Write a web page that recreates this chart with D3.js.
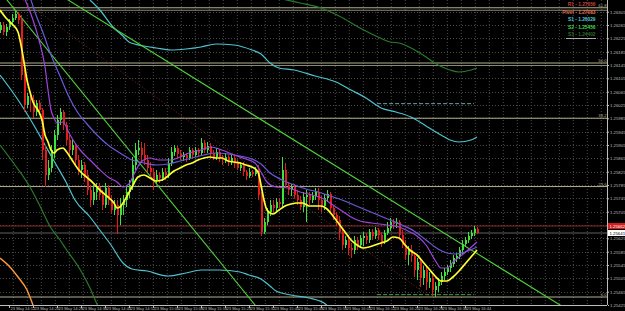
<!DOCTYPE html>
<html><head><meta charset="utf-8">
<script src="https://cdn.jsdelivr.net/npm/d3@7"></script>
<style>html,body{margin:0;padding:0;background:#000;overflow:hidden}svg{display:block}</style>
</head><body><svg id="c" width="625" height="311"></svg>
<script>
// ---- data ----
const timeLabels = ["23 May 14:12","23 May 14:20","23 May 14:28","23 May 14:36","23 May 14:44","23 May 14:52","23 May 15:00","23 May 15:08","23 May 15:16","23 May 15:24","23 May 15:32","23 May 15:40","23 May 15:48","23 May 15:56","23 May 16:04","23 May 16:12","23 May 16:20","23 May 16:28","23 May 16:36","23 May 16:44"];
const firstBarTime = "14:09";
const priceTicks = [1.26305,1.26265,1.26225,1.26185,1.26145,1.26105,1.26065,1.26025,1.25985,1.25945,1.25905,1.25865,1.25825,1.25785,1.25745,1.25705,1.25665,1.25625,1.25585,1.25545,1.25505,1.25465,1.25425];
const firstOpen = 1.26250;
const closes = [1.26265,1.26244,1.26259,1.26274,1.26286,1.26298,1.26280,1.26115,1.26025,1.26052,
1.26040,1.26004,1.26031,1.26010,1.25890,1.25815,1.25836,1.25890,1.25935,1.25980,
1.26004,1.25965,1.25920,1.25890,1.25905,1.25860,1.25830,1.25845,1.25815,1.25770,
1.25740,1.25764,1.25779,1.25755,1.25725,1.25776,1.25740,1.25710,1.25725,1.25695,
1.25725,1.25740,1.25764,1.25785,1.25845,1.25890,1.25896,1.25875,1.25860,1.25836,
1.25824,1.25800,1.25815,1.25806,1.25824,1.25815,1.25851,1.25884,1.25896,1.25878,
1.25869,1.25875,1.25866,1.25890,1.25875,1.25890,1.25881,1.25911,1.25890,1.25902,
1.25881,1.25869,1.25884,1.25866,1.25860,1.25869,1.25854,1.25866,1.25851,1.25836,
1.25845,1.25824,1.25812,1.25824,1.25818,1.25830,1.25755,1.25644,1.25674,1.25704,
1.25725,1.25716,1.25734,1.25728,1.25830,1.25785,1.25770,1.25779,1.25755,1.25740,
1.25719,1.25749,1.25755,1.25740,1.25752,1.25764,1.25740,1.25722,1.25746,1.25758,
1.25716,1.25695,1.25680,1.25644,1.25605,1.25620,1.25596,1.25590,1.25620,1.25605,
1.25626,1.25632,1.25620,1.25644,1.25632,1.25650,1.25635,1.25614,1.25641,1.25656,
1.25674,1.25668,1.25674,1.25635,1.25605,1.25575,1.25590,1.25572,1.25530,1.25554,
1.25506,1.25530,1.25494,1.25506,1.25470,1.25482,1.25494,1.25512,1.25524,1.25536,
1.25548,1.25566,1.25572,1.25590,1.25608,1.25620,1.25632,1.25641,1.25653,1.25641];
const highs = [1.26274,1.26274,1.26268,1.26283,1.26298,1.26307,1.26304,1.26295,1.26130,1.26061,
1.26061,1.26055,1.26040,1.26040,1.26016,1.25905,1.25860,1.25905,1.25950,1.25995,
1.26016,1.26010,1.25974,1.25935,1.25920,1.25911,1.25875,1.25860,1.25854,1.25830,
1.25785,1.25785,1.25791,1.25791,1.25770,1.25791,1.25785,1.25755,1.25740,1.25740,
1.25746,1.25755,1.25779,1.25800,1.25869,1.25911,1.25920,1.25914,1.25911,1.25875,
1.25854,1.25836,1.25830,1.25824,1.25836,1.25836,1.25866,1.25899,1.25905,1.25902,
1.25890,1.25884,1.25881,1.25899,1.25896,1.25899,1.25896,1.25926,1.25920,1.25914,
1.25911,1.25890,1.25896,1.25890,1.25875,1.25881,1.25875,1.25875,1.25872,1.25860,
1.25854,1.25854,1.25830,1.25836,1.25830,1.25839,1.25845,1.25764,1.25686,1.25716,
1.25740,1.25740,1.25746,1.25746,1.25869,1.25851,1.25794,1.25788,1.25788,1.25770,
1.25752,1.25764,1.25770,1.25764,1.25764,1.25776,1.25776,1.25752,1.25758,1.25770,
1.25764,1.25725,1.25704,1.25692,1.25656,1.25632,1.25635,1.25611,1.25632,1.25629,
1.25635,1.25644,1.25641,1.25653,1.25653,1.25659,1.25656,1.25644,1.25650,1.25674,
1.25686,1.25683,1.25686,1.25680,1.25650,1.25620,1.25602,1.25605,1.25584,1.25566,
1.25566,1.25542,1.25539,1.25524,1.25515,1.25494,1.25506,1.25524,1.25536,1.25545,
1.25560,1.25575,1.25581,1.25599,1.25620,1.25629,1.25644,1.25650,1.25662,1.25659];
const lows = [1.26241,1.26235,1.26232,1.26250,1.26262,1.26280,1.26268,1.26100,1.26004,1.26016,
1.26004,1.25986,1.25992,1.25995,1.25860,1.25779,1.25800,1.25824,1.25866,1.25920,
1.25965,1.25950,1.25905,1.25869,1.25875,1.25845,1.25815,1.25806,1.25794,1.25755,
1.25719,1.25725,1.25740,1.25740,1.25710,1.25716,1.25725,1.25698,1.25695,1.25638,
1.25665,1.25695,1.25719,1.25746,1.25770,1.25830,1.25875,1.25854,1.25845,1.25824,
1.25806,1.25770,1.25788,1.25791,1.25797,1.25800,1.25806,1.25842,1.25872,1.25866,
1.25860,1.25857,1.25854,1.25860,1.25866,1.25869,1.25872,1.25872,1.25881,1.25881,
1.25869,1.25860,1.25860,1.25854,1.25845,1.25851,1.25842,1.25845,1.25836,1.25830,
1.25827,1.25812,1.25800,1.25806,1.25809,1.25812,1.25740,1.25632,1.25638,1.25665,
1.25692,1.25704,1.25704,1.25716,1.25719,1.25776,1.25755,1.25752,1.25746,1.25725,
1.25710,1.25704,1.25674,1.25725,1.25731,1.25740,1.25710,1.25704,1.25710,1.25734,
1.25704,1.25680,1.25662,1.25620,1.25590,1.25596,1.25575,1.25566,1.25578,1.25590,
1.25596,1.25602,1.25608,1.25611,1.25620,1.25623,1.25620,1.25599,1.25608,1.25635,
1.25647,1.25653,1.25656,1.25620,1.25596,1.25560,1.25545,1.25554,1.25509,1.25500,
1.25479,1.25485,1.25470,1.25476,1.25452,1.25449,1.25464,1.25485,1.25500,1.25515,
1.25524,1.25539,1.25554,1.25563,1.25578,1.25602,1.25611,1.25623,1.25632,1.25638];

// indicator lines: [bar, price]
const yellowMA = [[0,1.26310],[2,1.26286],[4,1.26268],[6,1.26244],[7,1.26205],[8,1.26154],[9,1.26100],[10,1.26064],[11,1.26034],[13,1.26004],[14,1.25980],[15,1.25935],[16,1.25914],[17,1.25890],[18,1.25881],[19,1.25890],[21,1.25896],[22,1.25887],[24,1.25860],[26,1.25833],[28,1.25815],[30,1.25800],[32,1.25782],[34,1.25764],[36,1.25749],[38,1.25731],[39,1.25716],[40,1.25719],[41,1.25731],[42,1.25746],[44,1.25779],[46,1.25809],[48,1.25815],[50,1.25806],[52,1.25797],[54,1.25800],[56,1.25812],[58,1.25827],[60,1.25836],[62,1.25845],[64,1.25851],[66,1.25860],[68,1.25866],[70,1.25869],[72,1.25866],[74,1.25866],[76,1.25857],[78,1.25854],[80,1.25851],[82,1.25845],[84,1.25839],[86,1.25824],[87,1.25785],[88,1.25740],[89,1.25710],[91,1.25698],[93,1.25710],[95,1.25722],[97,1.25728],[99,1.25731],[101,1.25731],[103,1.25722],[105,1.25722],[107,1.25722],[109,1.25713],[111,1.25692],[113,1.25668],[115,1.25644],[117,1.25620],[119,1.25605],[121,1.25596],[123,1.25599],[125,1.25605],[127,1.25611],[129,1.25617],[131,1.25629],[133,1.25626],[135,1.25605],[137,1.25587],[139,1.25575],[141,1.25554],[143,1.25533],[145,1.25512],[147,1.25497],[149,1.25497],[151,1.25509],[153,1.25527],[155,1.25548],[157,1.25569],[159,1.25590]];
const purpleMA = [[8,1.26349],[11,1.26280],[13,1.26220],[15,1.26139],[16,1.26070],[17,1.26010],[18,1.25986],[19,1.25971],[21,1.25974],[23,1.25941],[25,1.25911],[27,1.25887],[30,1.25860],[33,1.25833],[36,1.25809],[39,1.25794],[41,1.25779],[43,1.25788],[45,1.25824],[47,1.25854],[50,1.25866],[53,1.25860],[57,1.25860],[60,1.25869],[63,1.25881],[67,1.25890],[70,1.25899],[74,1.25890],[78,1.25875],[82,1.25863],[85,1.25851],[87,1.25824],[89,1.25794],[92,1.25779],[96,1.25776],[100,1.25764],[104,1.25755],[108,1.25743],[111,1.25725],[114,1.25707],[117,1.25689],[120,1.25677],[124,1.25671],[129,1.25665],[133,1.25659],[136,1.25647],[139,1.25632],[142,1.25605],[145,1.25560],[147,1.25536],[149,1.25536],[151,1.25554],[154,1.25575],[156,1.25590],[159,1.25614]];
const blueMA = [[10,1.26349],[12,1.26295],[14,1.26250],[17,1.26175],[20,1.26112],[23,1.26049],[26,1.26001],[29,1.25968],[32,1.25938],[36,1.25905],[40,1.25881],[44,1.25860],[48,1.25851],[52,1.25845],[56,1.25848],[60,1.25857],[64,1.25866],[68,1.25875],[72,1.25881],[76,1.25878],[80,1.25872],[84,1.25863],[87,1.25848],[90,1.25821],[94,1.25800],[98,1.25785],[102,1.25773],[106,1.25764],[110,1.25752],[114,1.25740],[118,1.25725],[122,1.25710],[126,1.25695],[130,1.25680],[134,1.25665],[138,1.25647],[142,1.25620],[146,1.25593],[149,1.25581],[152,1.25578],[155,1.25584],[159,1.25599]];
const upperBand = [[30,1.26340],[33,1.26313],[38,1.26256],[41,1.26232],[43,1.26214],[48,1.26202],[52,1.26196],[57,1.26190],[62,1.26193],[67,1.26199],[72,1.26208],[78,1.26205],[84,1.26190],[87,1.26178],[90,1.26151],[93,1.26136],[98,1.26130],[105,1.26112],[112,1.26094],[117,1.26070],[122,1.26046],[127,1.26016],[132,1.26004],[137,1.25989],[142,1.25962],[147,1.25935],[150,1.25920],[153,1.25914],[157,1.25920],[159,1.25929]];
const lowerBand = [[0,1.26115],[3,1.26079],[8,1.26013],[12,1.25953],[15,1.25905],[18,1.25857],[22,1.25794],[25,1.25740],[30,1.25689],[33,1.25653],[37,1.25605],[41,1.25551],[44,1.25533],[49,1.25527],[56,1.25512],[62,1.25521],[67,1.25530],[73,1.25530],[80,1.25524],[83,1.25515],[87,1.25503],[90,1.25482],[92,1.25467],[97,1.25455],[103,1.25446],[108,1.25431],[110,1.25416]];
const upperOuter = [[88,1.26355],[100,1.26331],[107,1.26316],[113,1.26292],[120,1.26256],[126,1.26229],[130,1.26214],[133,1.26211],[137,1.26196],[141,1.26175],[146,1.26145],[150,1.26130],[153,1.26124],[157,1.26130],[159,1.26136]];
const lowerOuter = [[0,1.25905],[5,1.25845],[10,1.25779],[13,1.25728],[17,1.25656],[20,1.25620],[22,1.25593],[27,1.25527],[30,1.25476],[32,1.25434],[34,1.25395]];
const orangeLine = [[0,1.25566],[3,1.25542],[6,1.25509],[9,1.25470],[11,1.25425],[12,1.25404]];
const steepTrend = [[0,1.26366],[86,1.25414]];
const channelTrend = [[22,1.26344],[189,1.25412]];
const dottedTrend = [[7,1.26344],[143,1.25451]];
const fibLow = 1.25449, fibHigh = 1.26853;
const fibRatios = [0, 0.236, 0.382, 0.5, 0.618];
const fibLabels = ["0.0","23.6","38.2","50.0","61.8"];
const pivotNames = ["R1","Pivot","S1","S2","S3"];
const pivotValues = [1.27656,1.27083,1.26029,1.25456,1.24402];
const pivotSpan = [125.7, 158];
const bidPrice = 1.25641, askPrice = 1.25662;

// ---- layout ----
const plotR = 607, plotB = 305;
const FONT = "Liberation Sans, Arial, sans-serif";
const svg = d3.select("#c");
svg.append("rect").attr("width",625).attr("height",311).attr("fill","#000");
const x = d3.scaleLinear().domain([0, plotR/3]).range([0, plotR]);
const y = d3.scaleLinear().domain([1.26340, 1.25425]).range([0, plotB]);

svg.append("defs").append("clipPath").attr("id","clip")
  .append("rect").attr("width",plotR).attr("height",plotB);
const g = svg.append("g").attr("clip-path","url(#clip)");

// grid
const gridCol = "#4a4a4a";
g.selectAll(".gx").data(d3.range(13.3, plotR, 14)).join("line")
  .attr("x1",d=>d).attr("x2",d=>d).attr("y1",0).attr("y2",plotB)
  .attr("stroke",gridCol).attr("stroke-width",1).attr("stroke-dasharray","1,2");
g.selectAll(".gy").data(priceTicks).join("line")
  .attr("x1",0).attr("x2",plotR).attr("y1",d=>Math.round(y(d))+0.5).attr("y2",d=>Math.round(y(d))+0.5)
  .attr("stroke",gridCol).attr("stroke-width",1).attr("stroke-dasharray","1,2");

// fib levels
const fibCol = "#b3b08e";
fibRatios.forEach((r,i)=>{
  const yy = y(fibLow + r*(fibHigh-fibLow));
  g.append("line").attr("x1",0).attr("x2",plotR).attr("y1",yy).attr("y2",yy)
    .attr("stroke",fibCol).attr("stroke-width",1);
  if (r >= 0.5) {
    g.append("line").attr("x1",0).attr("x2",plotR).attr("y1",yy+2.5).attr("y2",yy+2.5)
      .attr("stroke","#8a8872").attr("stroke-width",1);
  }
  svg.append("text").attr("x",plotR-0.5).attr("y",yy-0.8).attr("text-anchor","end")
    .attr("font-family",FONT).attr("font-size",4.2)
    .attr("fill",fibCol).text(fibLabels[i]);
});

// pivot dashed lines
const pivotColors = ["#c84040","#e0704a","#6f9fa8","#3fa03f","#2f6a2f"];
pivotValues.forEach((v,i)=>{
  g.append("line").attr("x1",x(pivotSpan[0])).attr("x2",x(pivotSpan[1]))
   .attr("y1",y(v)).attr("y2",y(v))
   .attr("stroke", pivotColors[i]).attr("stroke-width",1).attr("stroke-dasharray","4,2");
});

// bid / ask
g.append("line").attr("x1",0).attr("x2",plotR).attr("y1",y(askPrice)).attr("y2",y(askPrice))
  .attr("stroke","#8a2626").attr("stroke-width",1);
g.append("line").attr("x1",0).attr("x2",plotR).attr("y1",y(bidPrice)).attr("y2",y(bidPrice))
  .attr("stroke","#606060").attr("stroke-width",1);

// lines
const line = d3.line().x(d=>x(d[0])).y(d=>y(d[1])).curve(d3.curveMonotoneX);
const straight = d3.line().x(d=>x(d[0])).y(d=>y(d[1]));
function path(data, color, w, gen, dash){
  const p = g.append("path").datum(data).attr("d",gen||line).attr("fill","none")
    .attr("stroke",color).attr("stroke-width",w);
  if (dash) p.attr("stroke-dasharray",dash);
}
path(orangeLine, "#ff9a3a", 1.4);
path(lowerOuter, "#2b7a2b", 1.2);
path(upperOuter, "#2b7a2b", 1.2);
path(upperBand, "#4ec3cf", 1.2);
path(lowerBand, "#4ec3cf", 1.2);
path(dottedTrend, "#7a2a22", 1, straight, "1,2");
path(steepTrend, "#4fcf3a", 1.1, straight);
path(channelTrend, "#4fcf3a", 1.1, straight);

// candles
const candles = closes.map((c,i)=>({i, o: i ? closes[i-1] : firstOpen, h: highs[i], l: lows[i], c}));
const cg = g.append("g");
cg.selectAll(".w").data(candles).join("rect")
  .attr("x",d=>Math.round(x(d.i))).attr("width",1)
  .attr("y",d=>y(d.h)).attr("height",d=>Math.max(1,y(d.l)-y(d.h)))
  .attr("fill",d=>d.c>=d.o?"#3de23d":"#e41c1c");
cg.selectAll(".b").data(candles).join("rect")
  .attr("x",d=>Math.round(x(d.i))).attr("width",2)
  .attr("y",d=>y(Math.max(d.o,d.c))).attr("height",d=>Math.max(1,Math.abs(y(d.o)-y(d.c))))
  .attr("fill",d=>d.c>=d.o?"#3de23d":"#e41c1c");

path(blueMA, "#6a5ad8", 1.2);
path(purpleMA, "#a045dc", 1.2);
path(yellowMA, "#ffff30", 1.7);

// axes
const axCol = "#bdbdbd";
svg.append("line").attr("x1",plotR+0.5).attr("x2",plotR+0.5).attr("y1",0).attr("y2",plotB)
  .attr("stroke",axCol).attr("stroke-width",1);
svg.append("line").attr("x1",0).attr("x2",plotR).attr("y1",plotB+0.5).attr("y2",plotB+0.5)
  .attr("stroke",axCol).attr("stroke-width",1);

const yAxis = svg.append("g").attr("transform",`translate(${plotR+1},0)`)
  .call(d3.axisRight(y).tickValues(priceTicks).tickSize(1).tickFormat(d3.format(".5f")));
yAxis.select(".domain").remove();
yAxis.selectAll("line").attr("stroke",axCol);
yAxis.selectAll("text").attr("fill",axCol).attr("font-size",4.3)
  .attr("font-family",FONT).attr("x",2);

function toMin(s){ const p=s.split(":"); return (+p[0])*60+(+p[1]); }
const t0 = toMin(firstBarTime);
const labelBars = timeLabels.map(s=>toMin(s.split(" ")[2]) - t0);
const xAxis = svg.append("g").attr("transform",`translate(0,${plotB+1})`)
  .call(d3.axisBottom(x).tickValues(labelBars).tickSize(2).tickFormat((d,i)=>timeLabels[i]));
xAxis.select(".domain").remove();
xAxis.selectAll("line").attr("stroke",axCol);
xAxis.selectAll("text").attr("fill",axCol).attr("font-size",4.1)
  .attr("font-family",FONT)
  .attr("text-anchor","start").attr("x",1).attr("y",1.5).attr("dy","0.71em");

// price boxes
function priceBox(v, bg, fg){
  const yy = y(v);
  svg.append("rect").attr("x",plotR+1).attr("y",yy-3).attr("width",17).attr("height",6).attr("fill",bg);
  svg.append("text").attr("x",plotR+2.5).attr("y",yy+1.6).attr("font-size",4.3)
    .attr("font-family",FONT).attr("fill",fg).text(v.toFixed(5));
}
priceBox(askPrice, "#d41c1c", "#ffffff");
priceBox(bidPrice, "#ffffff", "#000000");

// pivot legend
const legCols = ["#c84040","#e06a48","#4fc6d4","#3fd83f","#2e6a2e"];
pivotNames.forEach((n,i)=>{
  svg.append("text").attr("x",595.5).attr("y",6 + i*7.6).attr("text-anchor","end")
    .attr("font-family",FONT).attr("font-size",4.8).attr("font-weight","bold")
    .attr("fill",legCols[i]).text(n + " - " + pivotValues[i].toFixed(5));
});
svg.append("line").attr("x1",566).attr("x2",596).attr("y1",38.5).attr("y2",38.5)
  .attr("stroke","#d0d0d0").attr("stroke-width",0.8);
</script>
</body></html>
